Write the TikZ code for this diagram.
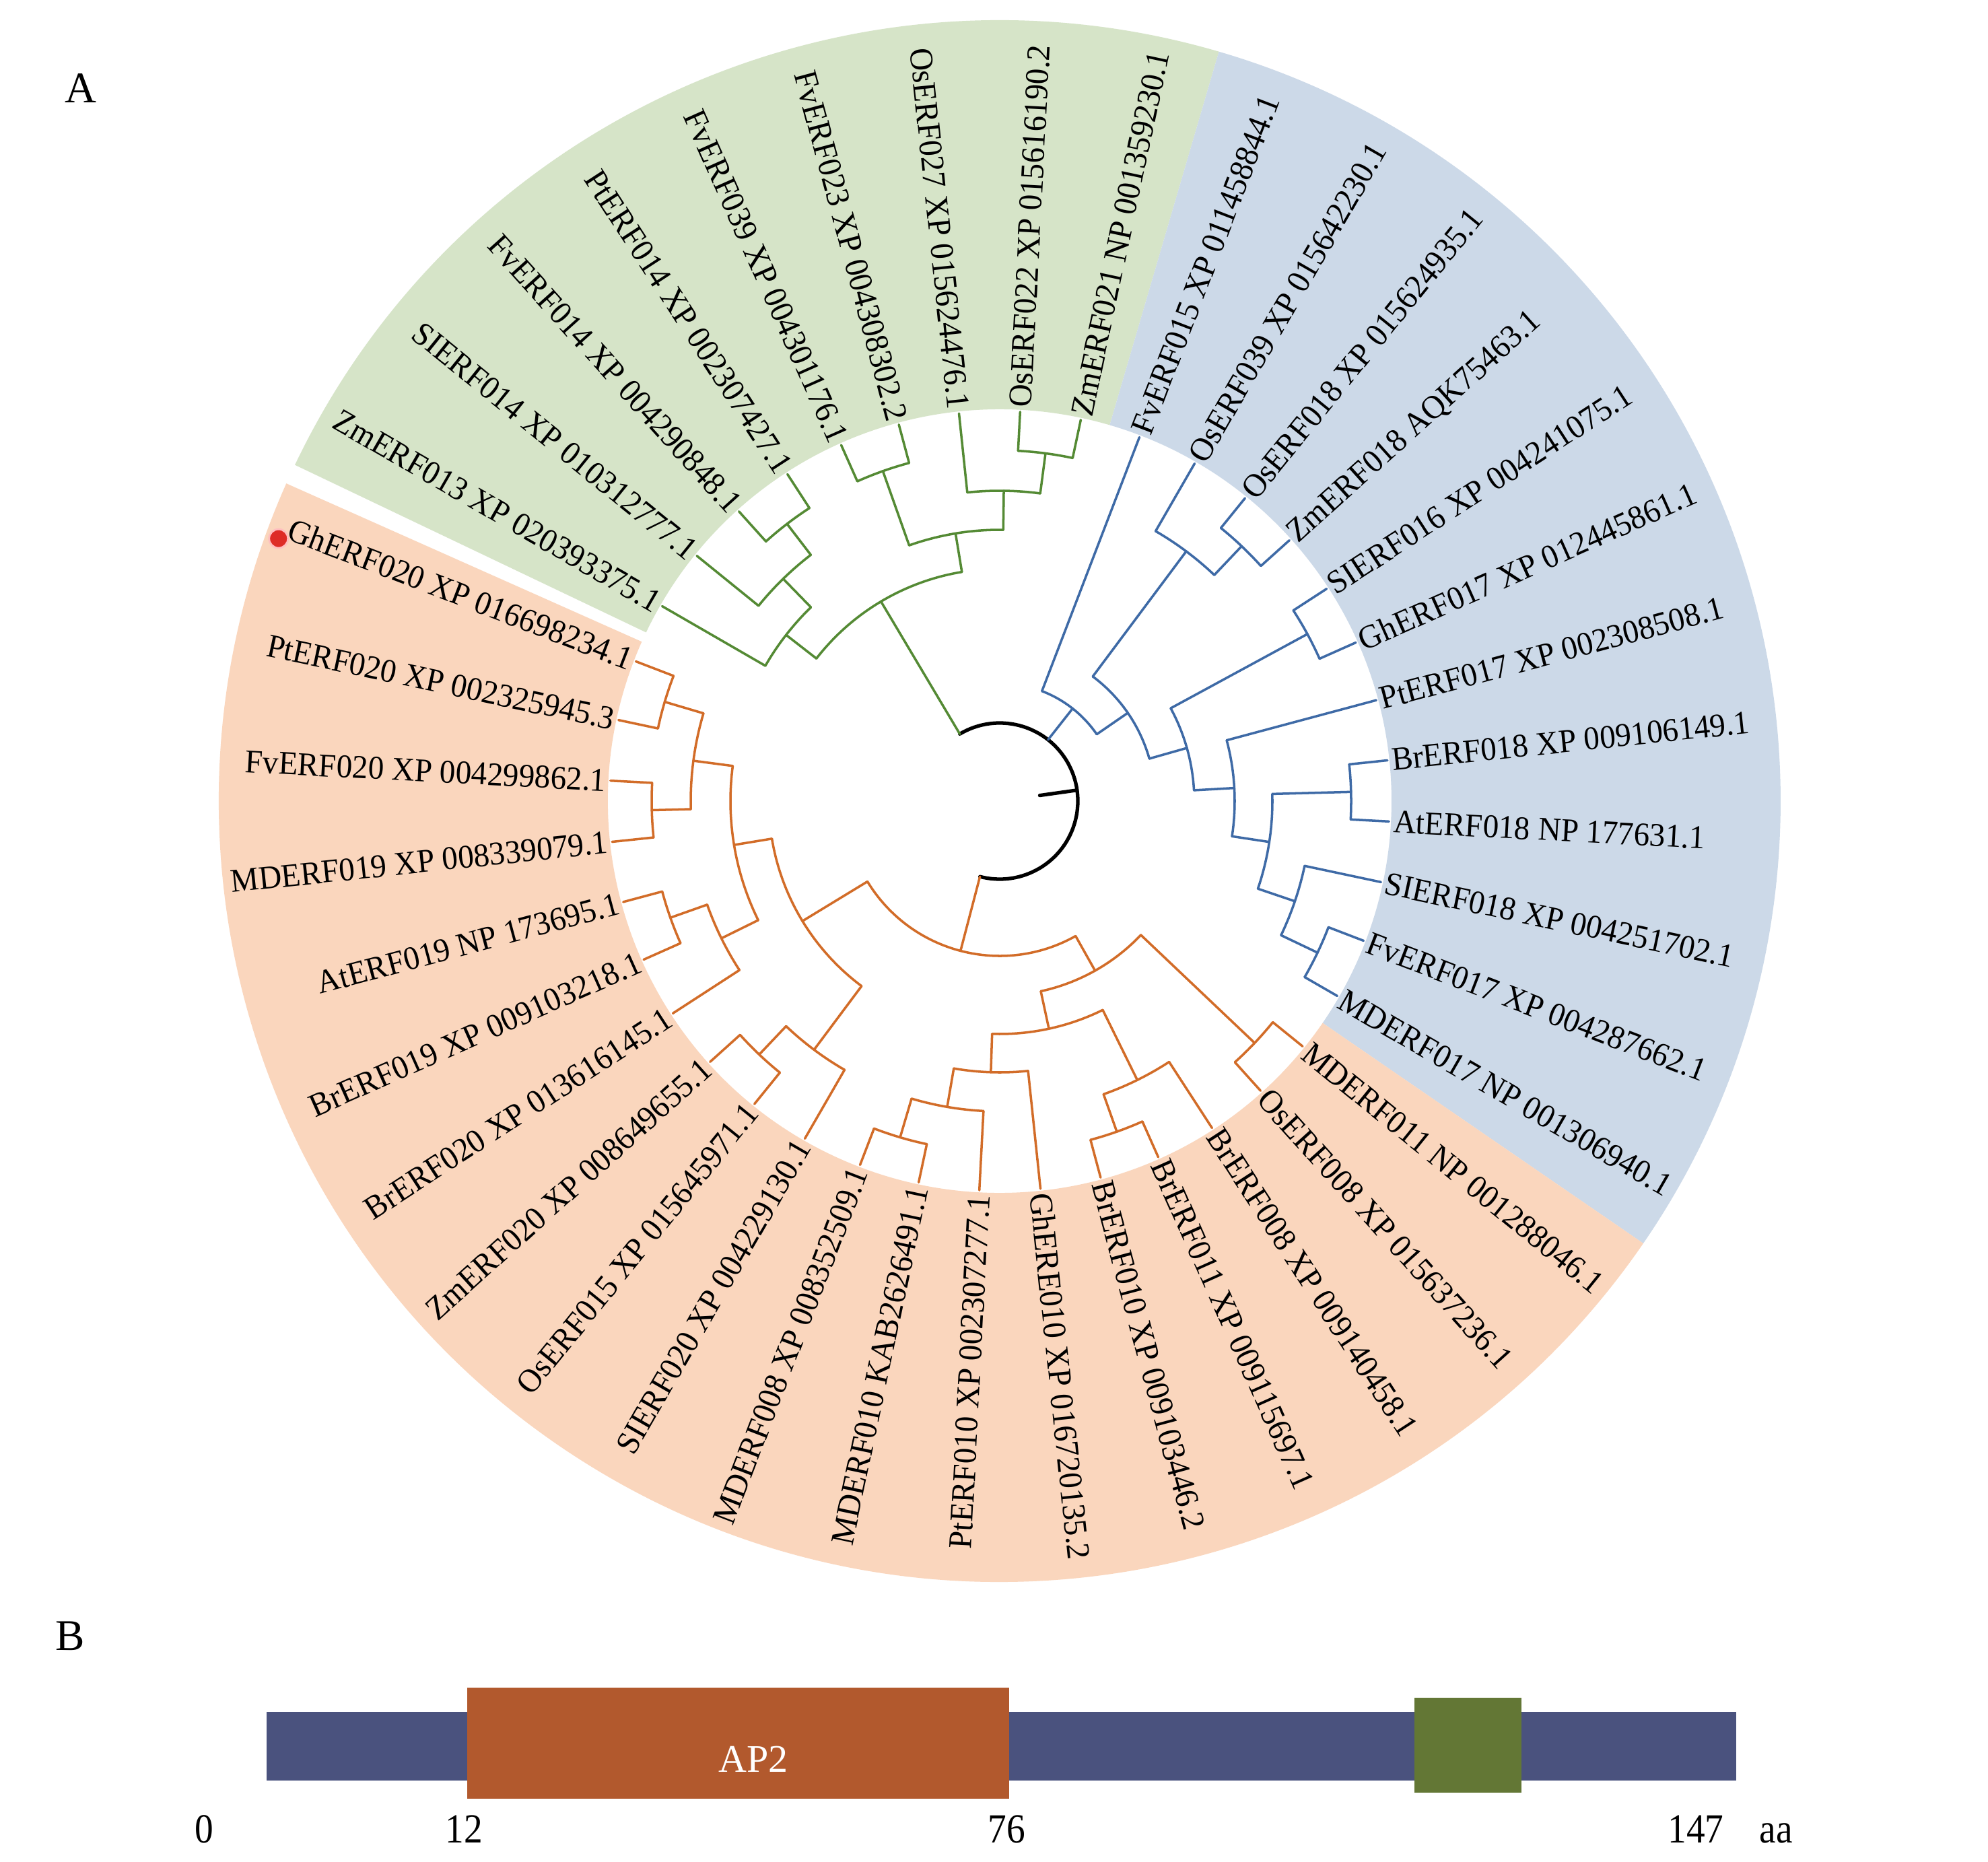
\documentclass[tikz,border=0pt]{standalone}
\usepackage{fontspec}
\setmainfont{Liberation Serif}
\definecolor{gfill}{RGB}{214,228,200}
\definecolor{bfill}{RGB}{204,217,232}
\definecolor{ofill}{RGB}{250,214,189}
\definecolor{gline}{RGB}{84,138,52}
\definecolor{bline}{RGB}{62,106,166}
\definecolor{oline}{RGB}{210,108,40}
\definecolor{barblue}{RGB}{74,82,126}
\definecolor{barorange}{RGB}{178,89,45}
\definecolor{bargreen}{RGB}{99,119,53}
\definecolor{dotred}{RGB}{222,44,38}
\newcommand{\tbr}[3]{\draw (#1:#2) -- (#1:#3);}
\newcommand{\tarc}[3]{\draw (#1:#3) arc[start angle=#1,end angle=#2,radius=#3];}
\newcommand{\tleafR}[4]{\draw (#2:#3) -- (#2:5.79); \node[lab,anchor=west,rotate=#2,xscale=0.955] (l#1) at (#2:5.84) {#4};}
\newcommand{\tleafL}[4]{\draw (#2:#3) -- (#2:5.79); \node[lab,anchor=east,rotate={#2+180},xscale=0.955] (l#1) at (#2:5.84) {#4};}
\newcommand{\tsector}[3]{\fill[#3] (#1:5.82) arc[start angle=#1,end angle=#2,radius=5.82] -- (#2:11.60) arc[start angle=#2,end angle=#1,radius=11.60] -- cycle;}
\tikzset{
  lab/.style={inner sep=0pt, text=black, font=\fontsize{14}{16}\selectfont},
  panel/.style={inner sep=0pt, text=black, font=\fontsize{18.5}{21}\selectfont},
  numlab/.style={inner sep=0pt, text=black, anchor=base, font=\fontsize{17.5}{20}\selectfont, xscale=0.9},
}
\begin{document}
\begin{tikzpicture}[line width=1pt, line cap=round, line join=round]
\useasboundingbox (0,0) rectangle (29.53,-27.66);
\fill[white] (0,0) rectangle (29.53,-27.66);
\node[panel] (pA) at (1.20,-1.31) {A};
\node[panel] (pB) at (1.04,-24.30) {B};
\begin{scope}[shift={(14.85,-11.90)}]
\tsector{73.7}{154.5}{gfill}
\tsector{-34.5}{73.7}{bfill}
\tsector{-204}{-34.5}{ofill}
% root
\draw[black, line width=1.5pt] (120.75:1.16) arc[start angle=120.75,end angle=-104.672,radius=1.16];
\draw[black, line width=1.5pt] (8.04:0.60) -- (8.04:1.16);
% green clade
\begin{scope}[gline]
\tleafL{1}{150}{4.02}{ZmERF013 XP 020393375.1}
\tleafL{2}{141}{4.61}{SIERF014 XP 010312777.1}
\tleafL{3}{132}{5.19}{FvERF014 XP 004290848.1}
\tleafL{4}{123}{5.19}{PtERF014 XP 002307427.1}
\tleafL{5}{114}{5.20}{FvERF039 XP 004301176.1}
\tleafL{6}{105}{5.20}{FvERF023 XP 004308302.2}
\tleafL{7}{96}{4.61}{OsERF027 XP 015624476.1}
\tleafR{8}{87}{5.21}{OsERF022 XP 015616190.2}
\tleafR{9}{78}{5.21}{ZmERF021 NP 001359230.1}
\tarc{132}{123}{5.19} \tbr{127.5}{4.61}{5.19}
\tarc{141}{127.5}{4.61} \tbr{134.25}{4.02}{4.61}
\tarc{150}{134.25}{4.02} \tbr{142.125}{3.45}{4.02}
\tarc{114}{105}{5.20} \tbr{109.5}{4.03}{5.20}
\tarc{87}{78}{5.21} \tbr{82.5}{4.61}{5.21}
\tarc{96}{82.5}{4.61} \tbr{89.25}{4.03}{4.61}
\tarc{109.5}{89.25}{4.03} \tbr{99.375}{3.45}{4.03}
\tarc{142.125}{99.375}{3.45} \tbr{120.75}{1.16}{3.45}
\end{scope}
% blue clade
\begin{scope}[bline]
\tleafR{10}{69}{1.75}{FvERF015 XP 011458844.1}
\tleafR{11}{60}{4.63}{OsERF039 XP 015642230.1}
\tleafR{12}{51}{5.22}{OsERF018 XP 015624935.1}
\tleafR{13}{42}{5.22}{ZmERF018 AQK75463.1}
\tleafR{14}{33}{5.20}{SIERF016 XP 004241075.1}
\tleafR{15}{24}{5.20}{GhERF017 XP 012445861.1}
\tleafR{16}{15}{3.49}{PtERF017 XP 002308508.1}
\tleafR{17}{6}{5.22}{BrERF018 XP 009106149.1}
\tleafR{18}{-3}{5.22}{AtERF018 NP 177631.1}
\tleafR{19}{-12}{4.63}{SIERF018 XP 004251702.1}
\tleafR{20}{-21}{5.23}{FvERF017 XP 004287662.1}
\tleafR{21}{-30}{5.23}{MDERF017 NP 001306940.1}
\tarc{51}{42}{5.22} \tbr{46.5}{4.63}{5.22}
\tarc{60}{46.5}{4.63} \tbr{53.25}{2.31}{4.63}
\tarc{33}{24}{5.20} \tbr{28.5}{2.89}{5.20}
\tarc{6}{-3}{5.22} \tbr{1.5}{4.05}{5.22}
\tarc{-21}{-30}{5.23} \tbr{-25.5}{4.63}{5.23}
\tarc{-12}{-25.5}{4.63} \tbr{-18.75}{4.05}{4.63}
\tarc{1.5}{-18.75}{4.05} \tbr{-8.625}{3.49}{4.05}
\tarc{15}{-8.625}{3.49} \tbr{3.1875}{2.89}{3.49}
\tarc{28.5}{3.1875}{2.89} \tbr{15.84}{2.31}{2.89}
\tarc{53.25}{15.84}{2.31} \tbr{34.55}{1.75}{2.31}
\tarc{69}{34.55}{1.75} \tbr{51.775}{1.16}{1.75}
\end{scope}
% orange clade
\begin{scope}[oline]
\tleafR{22}{-39}{5.22}{MDERF011 NP 001288046.1}
\tleafR{23}{-48}{5.22}{OsERF008 XP 015637236.1}
\tleafR{24}{-57}{4.62}{BrERF008 XP 009140458.1}
\tleafR{25}{-66}{5.21}{BrERF011 XP 009115697.1}
\tleafR{26}{-75}{5.21}{BrERF010 XP 009103446.2}
\tleafR{27}{-84}{4.03}{GhERE010 XP 016720135.2}
\tleafL{28}{-93}{4.61}{PtERF010 XP 002307277.1}
\tleafL{29}{-102}{5.21}{MDERF010 KAB2626491.1}
\tleafL{30}{-111}{5.21}{MDERF008 XP 008352509.1}
\tleafL{31}{-120}{4.61}{SIERF020 XP 004229130.1}
\tleafL{32}{-129}{5.19}{OsERF015 XP 015645971.1}
\tleafL{33}{-138}{5.19}{ZmERF020 XP 008649655.1}
\tleafL{34}{-147}{4.61}{BrERF020 XP 013616145.1}
\tleafL{35}{-156}{5.19}{BrERF019 XP 009103218.1}
\tleafL{36}{-165}{5.19}{AtERF019 NP 173695.1}
\tleafL{37}{-174}{5.17}{MDERF019 XP 008339079.1}
\tleafL{38}{-183}{5.17}{FvERF020 XP 004299862.1}
\tleafL{39}{-192}{5.19}{PtERF020 XP 002325945.3}
\tleafL{40}{-201}{5.19}{GhERF020 XP 016698234.1}
\tarc{-39}{-48}{5.22} \tbr{-43.5}{2.89}{5.22}
\tarc{-66}{-75}{5.21} \tbr{-70.5}{4.62}{5.21}
\tarc{-57}{-70.5}{4.62} \tbr{-63.75}{3.46}{4.62}
\tarc{-102}{-111}{5.21} \tbr{-106.5}{4.61}{5.21}
\tarc{-93}{-106.5}{4.61} \tbr{-99.75}{4.03}{4.61}
\tarc{-84}{-99.75}{4.03} \tbr{-91.875}{3.46}{4.03}
\tarc{-63.75}{-91.875}{3.46} \tbr{-77.8125}{2.89}{3.46}
\tarc{-43.5}{-77.8125}{2.89} \tbr{-60.656}{2.30}{2.89}
\tarc{-129}{-138}{5.19} \tbr{-133.5}{4.61}{5.19}
\tarc{-120}{-133.5}{4.61} \tbr{-126.75}{3.43}{4.61}
\tarc{-156}{-165}{5.19} \tbr{-160.5}{4.61}{5.19}
\tarc{-147}{-160.5}{4.61} \tbr{-153.75}{4.00}{4.61}
\tarc{-174}{-183}{5.17} \tbr{-178.5}{4.59}{5.17}
\tarc{-192}{-201}{5.19} \tbr{-196.5}{4.59}{5.19}
\tarc{-178.5}{-196.5}{4.59} \tbr{-187.5}{4.00}{4.59}
\tarc{-153.75}{-187.5}{4.00} \tbr{-170.625}{3.43}{4.00}
\tarc{-126.75}{-170.625}{3.43} \tbr{-148.6875}{2.30}{3.43}
\tarc{-60.656}{-148.6875}{2.30} \tbr{-104.672}{1.16}{2.30}
\end{scope}
\node[circle, fill=dotred, draw=red!25, line width=0.8pt, minimum size=0.28cm, inner sep=0pt] (dot) at (160:11.40) {};
\end{scope}
% panel B
\fill[barblue] (3.96,-25.43) rectangle (25.79,-26.45);
\fill[barorange] (6.94,-25.07) rectangle (14.99,-26.72);
\fill[bargreen] (21.01,-25.22) rectangle (22.60,-26.63);
\node[inner sep=0pt, text=white, font=\fontsize{16.5}{19}\selectfont] (ap2) at (11.19,-26.13) {AP2};
\node[numlab] (n0) at (3.03,-27.37) {0};
\node[numlab] (n12) at (6.89,-27.37) {12};
\node[numlab] (n76) at (14.95,-27.37) {76};
\node[numlab] (n147) at (25.19,-27.37) {147};
\node[numlab] (naa) at (26.38,-27.37) {aa};
\end{tikzpicture}
\end{document}
